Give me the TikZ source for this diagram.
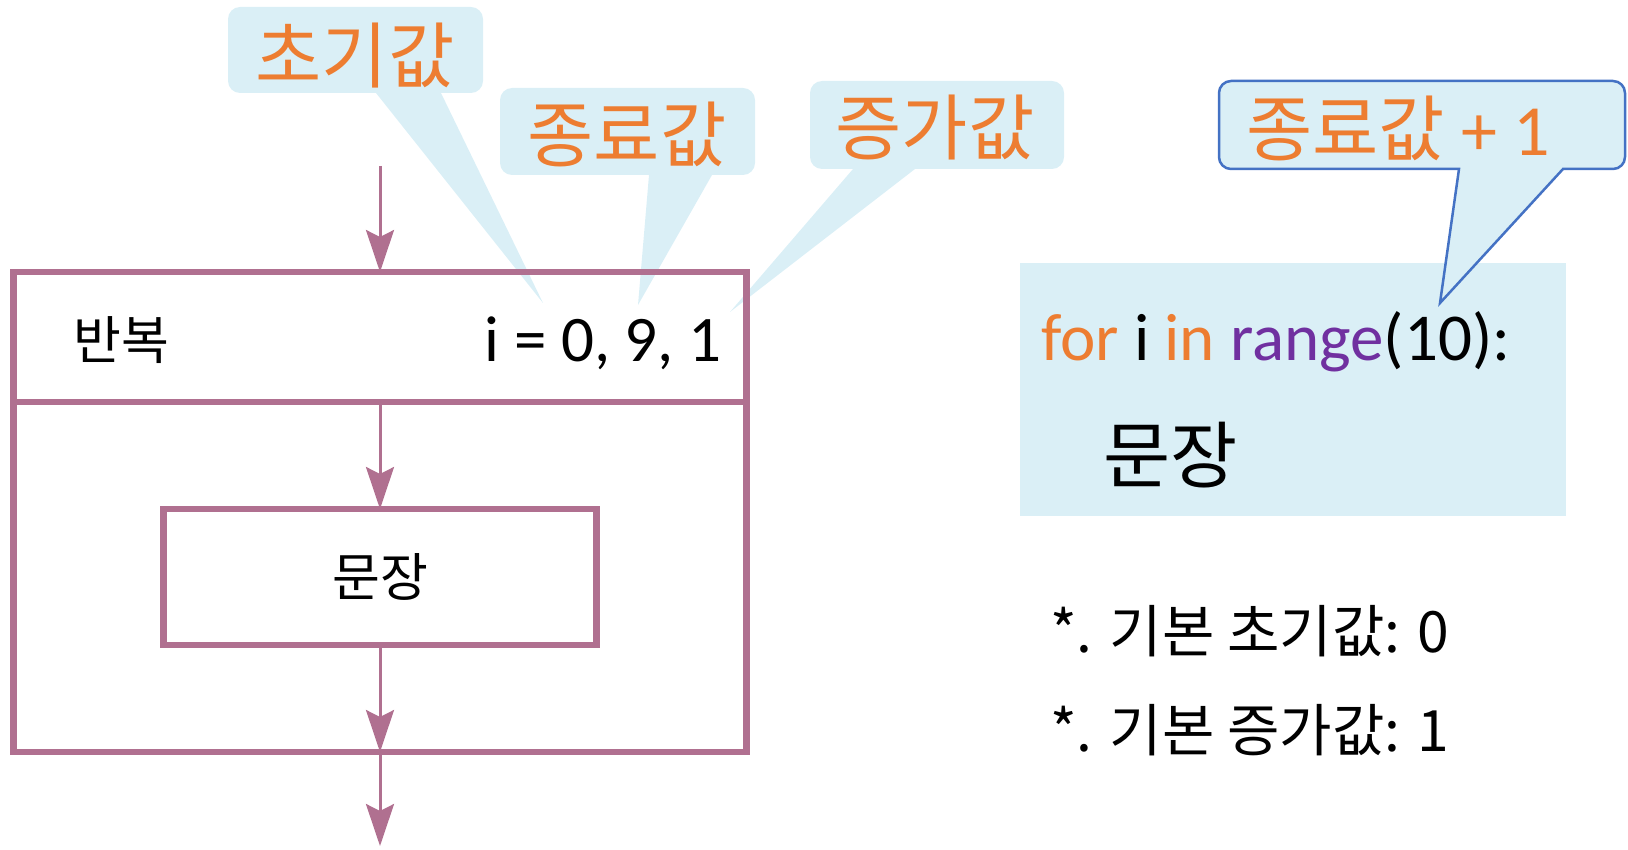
\documentclass[tikz,border=0pt]{standalone}
\usepackage{fontspec}
\setmainfont{Carlito}
\newfontfamily\kr{Noto Sans CJK KR}
\usetikzlibrary{arrows.meta,positioning}
\definecolor{flowpink}{RGB}{176,112,144}
\definecolor{tipblue}{RGB}{218,239,246}
\definecolor{keyorange}{RGB}{237,125,49}
\definecolor{fnpurple}{RGB}{112,48,160}
\definecolor{edgeblue}{RGB}{68,114,196}
\tikzstyle{flowbox}=[draw=flowpink, line width=6.5pt, inner sep=0pt,
                     outer sep=0pt]
\tikzstyle{flow}   =[draw=flowpink, line width=3pt,
                     -{Stealth[length=42pt, width=28pt, inset=7pt]}]
\tikzstyle{bubble} =[fill=tipblue, rounded corners=12pt]
\tikzstyle{tag}    =[text=keyorange, inner sep=0pt,
                     font=\kr\fontsize{72}{78}\selectfont]
\tikzstyle{note}   =[anchor=west, inner sep=0pt,
                     font=\kr\fontsize{57}{62}\selectfont]

\begin{document}
\begin{tikzpicture}[x=1pt, y=-1pt]
        \useasboundingbox (0,0) rectangle (1628,850);

        \fill[bubble] (228,7) -- (483,7) -- (483,93) [sharp corners] -- (441,93)
            -- (543,303) -- (376,93) [rounded corners=12pt] -- (228,93) -- cycle;
        \fill[bubble] (500,88) -- (755,88) -- (755,175) [sharp corners] -- (712,175)
            -- (638,305) -- (649,175) [rounded corners=12pt] -- (500,175) -- cycle;
        \fill[bubble] (810,81) -- (1064,81) -- (1064,169) [sharp corners] -- (915,169)
            -- (730,312) -- (853,169) [rounded corners=12pt] -- (810,169) -- cycle;

        \node[tag] (init) at (355,56) {초기값};
        \node[tag] (stop) at (627,134) {종료값};
        \node[tag] (incr) at (935,128) {증가값};

        \node[fill=tipblue, minimum width=546pt, minimum height=253pt] (code) at (1293,389.5) {};
        \draw[bubble, draw=edgeblue, line width=2.5pt] (1219,81) -- (1625,81) -- (1625,169)
            [sharp corners] -- (1563,169) -- (1440,303) -- (1459,169)
            [rounded corners=12pt] -- (1219,169) -- cycle;
        \node[tag, anchor=west] (stopone) at (1246,128) {종료값 {\rmfamily + 1}};

        \node[anchor=base west, inner sep=0pt, font=\fontsize{67}{72}\selectfont] (forline)
            at (1041,360) {\textcolor{keyorange}{for} i \textcolor{keyorange}{in}
            \textcolor{fnpurple}{range}(10):};
        \node[anchor=west, inner sep=0pt, font=\kr\fontsize{73}{80}\selectfont] (codebody)
            at (1103,455) {문장};

        \node[note] (defstart) at (1050,631) {*. 기본 초기값: 0};
        \node[note] (defstep) at (1050,730) {*. 기본 증가값: 1};

        \node[flowbox, minimum width=733pt, minimum height=130pt] (head) at (380,337) {};
        \node[flowbox, minimum width=733pt, minimum height=350pt] (body) at (380,577) {};
        \node[flowbox, minimum width=433pt, minimum height=136pt,
              font=\kr\fontsize{52}{60}\selectfont] (stmt) at (380,577) {문장};
        \node[font=\kr\fontsize{52}{60}\selectfont] (rep) at (121,340) {반복};
        \node[anchor=east, inner sep=0pt, font=\fontsize{65}{70}\selectfont] (cond)
            at (722,343) {i = 0, 9, 1};

        \coordinate (in) at (380,166);
        \coordinate (out) at (380,846);
        \foreach \a/\b in {in/head.north, head.south/stmt.north,
                           stmt.south/body.south, body.south/out}
            \draw[flow] (\a) -- (\b);
\end{tikzpicture}
\end{document}
